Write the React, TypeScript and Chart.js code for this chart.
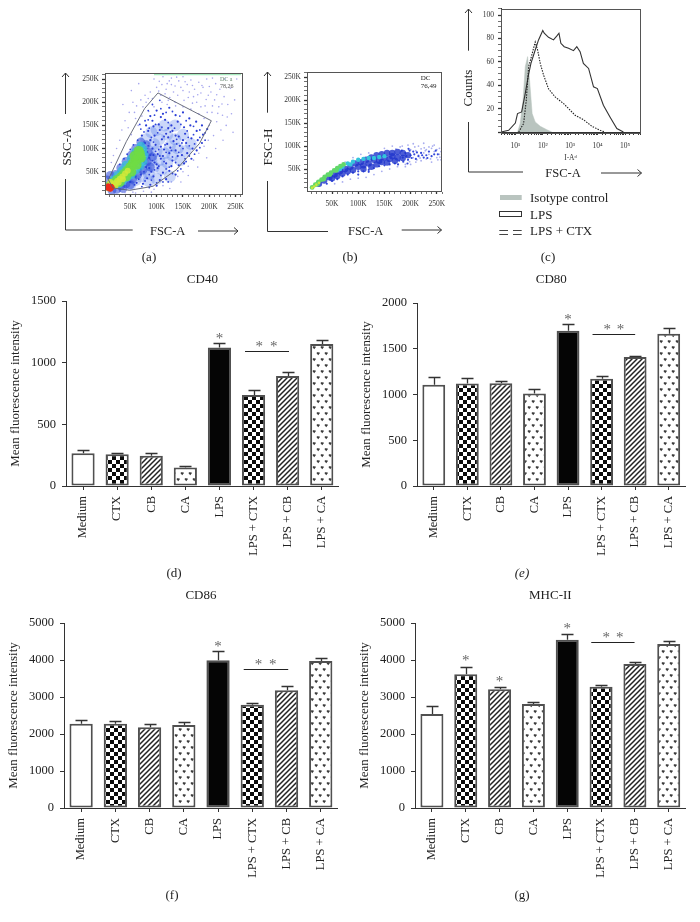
import React, { useEffect, useRef } from "react";
import { Chart, registerables } from "chart.js";

Chart.register(...registerables);

const SERIF = "'Liberation Serif', serif";

// ---------- bar panels ----------
const categories = ["Medium", "CTX", "CB", "CA", "LPS", "LPS + CTX", "LPS + CB", "LPS + CA"];

const cd40Values = [265, 257, 246, 149, 1122, 738, 892, 1151];
const cd40Tops = [292, 270, 268, 160, 1157, 776, 924, 1186];
const cd40Stars = [[4, 1216], [5.17, 1150], [5.59, 1150]];
const cd40Bracket = [4.75, 6.04, 1095];

const cd80Values = [1106, 1120, 1124, 1011, 1697, 1172, 1409, 1664];
const cd80Tops = [1190, 1179, 1153, 1058, 1770, 1204, 1423, 1726];
const cd80Stars = [[4, 1850], [5.165, 1737], [5.56, 1737]];
const cd80Bracket = [4.73, 6.0, 1660];

const cd86Values = [2279, 2279, 2180, 2243, 3991, 2793, 3180, 3973];
const cd86Tops = [2369, 2351, 2261, 2324, 4243, 2829, 3306, 4063];
const cd86Stars = [[4, 4441], [5.18, 3946], [5.6, 3946]];
const cd86Bracket = [4.75, 6.05, 3748];

const mhcValues = [2541, 3613, 3207, 2811, 4550, 3279, 3892, 4432];
const mhcTops = [2748, 3811, 3270, 2856, 4703, 3333, 3946, 4514];
const mhcStars = [[1, 4054], [2, 3477], [4, 4910], [5.15, 4685], [5.55, 4685]];
const mhcBracket = [4.71, 5.99, 4477];

const barPatterns = ["white", "checker", "diag", "hearts", "black", "checker", "diag", "hearts"];

// ---------- panel (a) FSC-A / SSC-A, values in thousands ----------
const flowTicks = [10, 20, 30, 40, 50, 60, 70, 80, 90, 100, 110, 120, 130, 140, 150, 160, 170, 180, 190, 200, 210, 220, 230, 240, 250, 260];
const aGate = [[8.2, 32.9], [42.4, 115], [77.2, 186.4], [102.5, 220], [203.8, 160], [181.6, 111.4], [137, 54], [93, 18.6], [48.7, 10], [17, 15], [8.2, 32.9]];
const aTopEdge = [[95, 260.5], [150, 260.5], [200, 260.5], [260, 260.5]];
const aRed = [[7, 14], [10, 17], [13, 12], [16, 16], [11, 12], [8, 20], [14, 19]];
const aYellow = [[15, 22], [20, 25], [25, 30], [30, 35], [35, 40], [40, 46], [45, 52], [22, 20], [12, 28], [28, 27], [36, 34]];
const aGreen = [[10, 18], [18, 25], [25, 32], [32, 38], [38, 45], [44, 52], [50, 60], [55, 68], [60, 75], [65, 82], [68, 90], [70, 80], [62, 65], [52, 50], [42, 40], [30, 28], [58, 84], [66, 95]];
const aCyan = [[28, 24], [35, 30], [44, 38], [52, 44], [60, 54], [68, 62], [74, 72], [76, 86], [74, 98], [70, 105], [60, 92], [52, 78], [42, 64], [34, 52], [26, 42], [18, 32]];
const aDense = [[6, 32], [15, 10], [24, 12], [22, 44], [32, 20], [32, 58], [42, 24], [42, 72], [54, 34], [52, 86], [64, 44], [60, 100], [74, 54], [70, 114], [82, 72], [84, 92], [80, 108], [12, 42], [36, 14], [50, 22], [88, 60], [92, 82]];
const aSoft = [[85, 45], [95, 60], [105, 75], [115, 90], [125, 105], [100, 95], [90, 75], [80, 55], [110, 55], [120, 70], [130, 85], [140, 100], [135, 120], [120, 130], [105, 120], [95, 110], [85, 95], [75, 70], [70, 40], [60, 32], [50, 22], [145, 75], [155, 95], [150, 130], [135, 150], [115, 150], [100, 140], [165, 110], [125, 40], [100, 35], [85, 30], [75, 85], [80, 120], [90, 135]];
const aMid = [[88, 170], [100, 182], [112, 175], [124, 188], [136, 172], [150, 178], [162, 165], [175, 158], [186, 150], [80, 150], [92, 160], [104, 152], [116, 162], [128, 150], [140, 158], [152, 146], [164, 150], [176, 138], [188, 130], [196, 142], [72, 128], [84, 138], [96, 128], [106, 140], [118, 132], [130, 138], [142, 126], [154, 132], [166, 122], [178, 118], [186, 112], [78, 112], [88, 118], [98, 108], [110, 120], [120, 110], [132, 116], [144, 106], [156, 112], [168, 100], [176, 96], [82, 92], [92, 100], [102, 88], [114, 98], [124, 90], [136, 96], [148, 86], [158, 90], [166, 78], [76, 72], [86, 80], [96, 70], [108, 78], [118, 68], [130, 74], [142, 64], [152, 68], [70, 55], [80, 60], [90, 50], [102, 58], [112, 48], [124, 52], [136, 44], [60, 40], [70, 44], [82, 36], [94, 40], [106, 32], [118, 34], [50, 28], [62, 26], [74, 24], [88, 22], [100, 20], [94, 148], [108, 168], [122, 144], [136, 128], [150, 118], [122, 124], [108, 104], [94, 86], [126, 102], [140, 84], [112, 84], [100, 66], [86, 58], [128, 62], [72, 90], [68, 104], [60, 78]];
const aFine = [[84, 162], [96, 172], [108, 186], [118, 178], [130, 180], [144, 170], [156, 160], [170, 148], [182, 140], [192, 134], [86, 144], [98, 152], [110, 146], [122, 156], [134, 144], [146, 152], [158, 138], [170, 130], [182, 124], [192, 118], [76, 136], [90, 124], [102, 134], [114, 126], [126, 136], [138, 120], [148, 112], [160, 124], [172, 110], [182, 102], [84, 106], [94, 114], [104, 98], [116, 108], [128, 96], [138, 110], [150, 100], [162, 106], [172, 88], [88, 86], [98, 94], [106, 84], [118, 92], [130, 82], [142, 92], [154, 78], [162, 84], [80, 68], [92, 74], [104, 62], [114, 72], [124, 60], [136, 70], [146, 56], [156, 72], [76, 50], [86, 44], [96, 54], [108, 42], [118, 56], [130, 46], [140, 52], [66, 34], [78, 30], [90, 32], [100, 26], [112, 28], [122, 28], [58, 22], [72, 18], [86, 16], [68, 66], [64, 118], [70, 142], [56, 108], [50, 98], [44, 88], [38, 78], [30, 66], [78, 160], [68, 152], [84, 182], [92, 195], [106, 204]];
const aSparse = [[95, 250], [105, 245], [112, 255], [120, 240], [128, 252], [135, 235], [142, 246], [150, 255], [158, 238], [165, 248], [172, 228], [180, 243], [188, 232], [195, 250], [203, 222], [212, 240], [220, 228], [228, 212], [235, 195], [218, 190], [225, 172], [232, 150], [210, 205], [198, 215], [184, 220], [170, 212], [150, 225], [132, 222], [118, 228], [100, 232], [88, 222], [78, 215], [70, 205], [62, 192], [55, 200], [48, 178], [40, 160], [34, 140], [30, 118], [24, 100], [18, 85], [14, 70], [36, 195], [52, 225], [66, 240], [80, 200], [92, 208], [108, 215], [125, 210], [140, 215], [160, 210], [176, 200], [192, 192], [205, 178], [214, 158], [222, 140], [208, 128], [198, 118], [190, 105], [180, 90], [170, 75], [160, 62], [150, 50], [140, 40], [128, 28], [112, 20], [95, 12], [75, 8], [55, 6], [40, 5], [30, 8], [240, 230], [248, 205], [242, 175], [252, 250], [230, 250], [206, 252], [245, 135], [226, 118], [212, 100], [195, 80], [178, 60], [160, 42], [146, 28], [125, 14], [90, 6], [60, 4], [120, 195], [135, 200], [150, 190], [165, 185], [180, 175], [190, 165], [200, 150], [110, 200], [95, 190], [85, 180], [72, 170], [65, 150], [60, 165], [52, 130], [46, 145], [116, 218], [128, 238], [146, 232], [162, 222], [178, 216], [194, 206], [206, 192], [216, 176], [110, 238], [124, 246], [138, 254], [154, 244], [168, 236], [186, 236], [200, 234], [214, 216], [224, 196], [234, 168], [196, 178], [184, 190], [168, 198], [152, 204], [136, 192], [122, 204], [104, 224], [84, 208], [74, 190], [58, 178]];

// ---------- panel (b) FSC-A / FSC-H, values in thousands ----------
const bYellow = [[12, 9], [16, 12], [20, 16], [25, 20]];
const bGreen = [[12, 10], [18, 16], [24, 22], [30, 27], [36, 33], [42, 38], [48, 42], [54, 47], [60, 52], [66, 56], [72, 60], [22, 17], [34, 28], [46, 38], [58, 47]];
const bCyan = [[60, 48], [70, 55], [80, 62], [90, 66], [100, 70], [110, 72], [120, 74], [130, 74], [140, 76], [150, 78], [65, 50], [85, 60]];
const bDense = [[25, 18], [35, 25], [45, 32], [55, 38], [65, 45], [75, 50], [85, 55], [95, 62], [105, 65], [115, 70], [125, 75], [135, 80], [145, 82], [155, 85], [165, 85], [175, 87], [185, 85], [60, 35], [80, 45], [100, 55], [120, 62], [140, 68], [160, 72], [175, 75], [150, 75], [130, 70], [110, 58], [90, 48], [70, 40], [50, 30], [145, 65], [165, 78], [110, 50], [125, 55], [135, 60], [155, 64], [170, 68], [185, 74], [195, 80]];
const bMid = [[185, 75], [190, 85], [195, 70], [200, 80], [205, 88], [210, 72], [215, 78], [220, 85], [225, 75], [230, 80], [178, 68], [183, 90], [192, 78], [198, 90], [207, 82], [235, 88], [240, 78], [245, 82], [40, 18], [50, 24], [60, 28], [70, 34], [80, 38], [90, 42], [100, 45], [110, 45], [120, 48], [130, 52], [140, 56], [150, 58], [160, 60], [170, 62], [100, 38], [120, 44], [186, 66], [194, 62], [202, 74], [212, 86], [222, 80], [232, 74], [196, 94], [176, 60], [252, 82], [248, 90]];
const bSparse = [[150, 95], [165, 100], [180, 98], [195, 102], [205, 105], [215, 100], [225, 106], [235, 98], [245, 102], [255, 95], [200, 60], [210, 65], [220, 68], [230, 72], [240, 65], [250, 75], [258, 70], [205, 75], [215, 80], [225, 85], [235, 82], [245, 88], [255, 82], [200, 92], [210, 90], [220, 94], [230, 92], [240, 95], [250, 92], [258, 88], [190, 60], [175, 55], [160, 50], [145, 45], [130, 38], [115, 32], [100, 30], [85, 28], [70, 22], [55, 18], [120, 85], [105, 82], [90, 75], [75, 65], [60, 55], [190, 55], [212, 70], [228, 90], [238, 72], [252, 70], [208, 98], [218, 74], [184, 100], [172, 94], [198, 66], [242, 100], [226, 96], [256, 76]];

// ---------- panel (c) histogram ----------
const isotypeCurve = [[12, 0], [15, 7.2], [19, 27], [23, 55.9], [28, 64.5], [33, 44.4], [41, 15.8], [53, 8.6], [81, 4.9], [141, 2], [214, 0]];
const lpsCurve = [[3, 0], [5.7, 1.4], [10, 7.7], [12, 15.8], [17, 17.2], [23, 33], [30, 48.7], [37, 58.7], [53, 70.2], [70, 78.8], [100, 86.8], [113, 84.5], [162, 81], [246, 78.8], [327, 82.2], [389, 84.5], [457, 75.9], [603, 73], [871, 71.6], [1318, 69.6], [1738, 73], [2291, 68.8], [3020, 58.7], [4677, 54.4], [7079, 38.7], [9772, 37.2], [16218, 22.9], [28184, 12.9], [50119, 2.9], [87096, 0]];
const lpsCtxCurve = [[13.2, 0], [20, 7.2], [25, 27], [30.5, 55.9], [37, 63], [53, 77], [65, 70], [81, 58.7], [107, 48.7], [162, 37], [282, 30], [575, 24.3], [1000, 18.6], [1514, 14.3], [3020, 10.6], [6166, 4.9], [12300, 1.4], [18600, 0]];

const legendLabels = ["Isotype control", "LPS", "LPS + CTX"];

const pts = (list: number[][]) => list.map(([x, y]) => ({ x, y }));

// ---------- fill patterns ----------
function tile(w: number, h: number, draw: (c: CanvasRenderingContext2D) => void) {
  const cv = document.createElement("canvas");
  cv.width = w;
  cv.height = h;
  const c = cv.getContext("2d")!;
  c.fillStyle = "#fff";
  c.fillRect(0, 0, w, h);
  draw(c);
  return c.createPattern(cv, "repeat")!;
}
function makeFill(kind: string): any {
  if (kind === "white") return "#ffffff";
  if (kind === "black") return "#050505";
  if (kind === "checker")
    return tile(8, 8, (c) => {
      c.fillStyle = "#0a0a0a";
      c.fillRect(0, 0, 4, 4);
      c.fillRect(4, 4, 4, 4);
    });
  if (kind === "diag")
    return tile(5, 5, (c) => {
      c.strokeStyle = "#222";
      c.lineWidth = 1.5;
      c.beginPath();
      c.moveTo(-2, 7);
      c.lineTo(7, -2);
      c.moveTo(-2, 2);
      c.lineTo(2, -2);
      c.moveTo(3, 7);
      c.lineTo(7, 3);
      c.stroke();
    });
  return tile(8, 12, (c) => {
    c.strokeStyle = "#3a3a3a";
    c.lineWidth = 1.5;
    c.beginPath();
    c.moveTo(1, 2.5);
    c.lineTo(2.2, 4);
    c.lineTo(3.4, 2.5);
    c.moveTo(5, 8.5);
    c.lineTo(6.2, 10);
    c.lineTo(7.4, 8.5);
    c.stroke();
  });
}

// ---------- bar chart ----------
function barConfig(p: any) {
  const marks = {
    id: "marks",
    afterDatasetsDraw(chart: any) {
      const { ctx, scales } = chart;
      const x = scales.x;
      const y = scales.y;
      ctx.save();
      ctx.strokeStyle = "#333";
      ctx.lineWidth = 1.3;
      p.tops.forEach((top: number, i: number) => {
        const px = Math.round(x.getPixelForValue(i)) + 0.5;
        const y0 = y.getPixelForValue(p.values[i]);
        const y1 = Math.round(y.getPixelForValue(top)) + 0.5;
        ctx.beginPath();
        ctx.moveTo(px, y0);
        ctx.lineTo(px, y1);
        ctx.moveTo(px - 6, y1);
        ctx.lineTo(px + 6, y1);
        ctx.stroke();
      });
      ctx.strokeStyle = "#222";
      ctx.lineWidth = 1;
      const by = Math.round(y.getPixelForValue(p.bracket[2])) + 0.5;
      ctx.beginPath();
      ctx.moveTo(x.getPixelForValue(p.bracket[0]), by);
      ctx.lineTo(x.getPixelForValue(p.bracket[1]), by);
      ctx.stroke();
      ctx.fillStyle = "#666";
      ctx.font = `15px ${SERIF}`;
      ctx.textAlign = "center";
      ctx.textBaseline = "alphabetic";
      p.stars.forEach(([i, v]: number[]) => {
        ctx.fillText("*", x.getPixelForValue(i), y.getPixelForValue(v) + 7);
      });
      ctx.restore();
    },
  };
  return {
    type: "bar",
    data: {
      labels: categories,
      datasets: [
        {
          label: p.title,
          data: p.values,
          backgroundColor: barPatterns.map(makeFill),
          borderColor: "#505050",
          borderWidth: 2,
          borderSkipped: false,
          categoryPercentage: 1,
          barPercentage: 0.68,
        },
      ],
    },
    options: {
      responsive: false,
      animation: false,
      layout: { padding: 0 },
      plugins: {
        legend: { display: false },
        tooltip: { enabled: false },
        title: {
          display: true,
          text: p.title,
          fullSize: false,
          color: "#222",
          font: { family: SERIF, size: 13, weight: "normal" },
          padding: { top: 0, bottom: p.titleGap },
        },
      },
      scales: {
        x: {
          offset: true,
          afterFit: (s: any) => { s.height = 75; },
          border: { color: "#333", width: 1 },
          grid: { display: true, drawOnChartArea: false, offset: false, tickLength: 4, tickColor: "#333" },
          ticks: { autoSkip: false, minRotation: 90, maxRotation: 90, padding: 6, color: "#222", font: { family: SERIF, size: 12.5 } },
        },
        y: {
          min: 0,
          max: p.max,
          afterFit: (s: any) => { s.width = 58; },
          border: { color: "#333", width: 1 },
          grid: { display: true, drawOnChartArea: false, tickLength: 4, tickColor: "#333" },
          ticks: { stepSize: p.step, padding: 6, color: "#222", font: { family: SERIF, size: 12.5 }, callback: (v: number) => String(v) },
          title: { display: true, text: "Mean fluorescence intensity", padding: 0, color: "#222", font: { family: SERIF, size: 13 } },
        },
      },
    },
    plugins: [marks],
  };
}

// ---------- flow cytometry panels ----------
const framePlugin = {
  id: "frame",
  afterDraw(chart: any) {
    const { ctx, chartArea: a } = chart;
    ctx.save();
    ctx.strokeStyle = "#555";
    ctx.lineWidth = 1;
    ctx.strokeRect(Math.round(a.left) + 0.5, Math.round(a.top) + 0.5, Math.round(a.right - a.left), Math.round(a.bottom - a.top));
    ctx.restore();
  },
};

function dots(label: string, list: number[][], color: string, radius: number) {
  return { label, data: pts(list), backgroundColor: color, borderWidth: 0, pointRadius: radius, pointHoverRadius: radius };
}

function flowAxis(min: number, max: number, size: number, isX: boolean) {
  return {
    min,
    max,
    afterFit: (s: any) => { if (isX) s.height = size; else s.width = size; },
    afterBuildTicks: (s: any) => { s.ticks = flowTicks.map((k) => ({ value: k * 1000 })); },
    border: { color: "#555", width: 1 },
    grid: {
      display: true,
      drawOnChartArea: false,
      tickLength: 3,
      tickColor: "#333",
      tickWidth: (c: any) => (c.tick && c.tick.value % 50000 === 0 ? 1.3 : 0.7),
    },
    ticks: {
      autoSkip: false,
      maxRotation: 0,
      padding: isX ? 6 : 3,
      color: "#333",
      font: { family: SERIF, size: 7.5 },
      callback: (v: number) => (v > 0 && v % 50000 === 0 ? `${v / 1000}K` : ""),
    },
  };
}
const scaleK = (list: number[][]) => list.map(([x, y]) => [x * 1000, y * 1000]);

function scatterConfig(sets: any[], x: number[], y: number[], pad: any) {
  return {
    type: "scatter",
    data: { datasets: sets },
    options: {
      responsive: false,
      animation: false,
      layout: { padding: pad },
      plugins: { legend: { display: false }, tooltip: { enabled: false } },
      scales: { x: flowAxis(x[0], x[1], 24, true), y: flowAxis(y[0], y[1], 35, false) },
    },
    plugins: [framePlugin],
  };
}

const panelAConfig = () =>
  scatterConfig(
    [
      { label: "DC a gate", data: pts(scaleK(aGate)), showLine: true, borderColor: "#5a5f70", borderWidth: 0.9, pointRadius: 0, fill: false },
      { label: "edge", data: pts(scaleK(aTopEdge)), showLine: true, borderColor: "#a8ecc0", borderWidth: 2, pointRadius: 0, fill: false },
      dots("red", scaleK(aRed), "#ee2b1b", 2.4),
      dots("yellow", scaleK(aYellow), "rgba(210,232,58,0.85)", 3),
      dots("green", scaleK(aGreen), "rgba(111,220,69,0.9)", 5),
      dots("cyan", scaleK(aCyan), "rgba(53,190,215,0.75)", 4.5),
      dots("dense", scaleK(aDense), "rgba(40,70,215,0.55)", 4.5),
      dots("mid", scaleK(aMid), "#2b3ed6", 1.1),
      dots("fine", scaleK(aFine), "#2f44da", 0.9),
      dots("soft", scaleK(aSoft), "rgba(70,110,235,0.28)", 6),
      dots("sparse", scaleK(aSparse), "#a6a6ee", 0.8),
    ],
    [2000, 262000],
    [2000, 263000],
    { top: 10, right: 12 }
  );

const panelBConfig = () =>
  scatterConfig(
    [
      dots("yellow", scaleK(bYellow), "#c8e83c", 1.3),
      dots("green", scaleK(bGreen), "#62d86a", 2.4),
      dots("cyan", scaleK(bCyan), "#35c4dc", 2.2),
      dots("dense", scaleK(bDense), "rgba(31,53,204,0.8)", 3.2),
      dots("mid", scaleK(bMid), "#3448da", 1.1),
      dots("sparse", scaleK(bSparse), "#a9adef", 0.9),
    ],
    [2200, 258000],
    [2200, 261000],
    { top: 10, right: 12 }
  );

const panelCConfig = () => ({
  type: "scatter",
  data: {
    datasets: [
      { label: legendLabels[2], data: pts(lpsCtxCurve), showLine: true, borderColor: "#222", borderWidth: 1.1, borderDash: [1.5, 1.2], pointRadius: 0, fill: false },
      { label: legendLabels[1], data: pts(lpsCurve), showLine: true, borderColor: "#333", borderWidth: 1.1, pointRadius: 0, fill: false },
      { label: legendLabels[0], data: pts(isotypeCurve), showLine: true, borderColor: "#b9c4bf", backgroundColor: "#b9c4bf", borderWidth: 0.5, pointRadius: 0, fill: "origin" },
    ],
  },
  options: {
    responsive: false,
    animation: false,
    layout: { padding: { top: 5, right: 10 } },
    plugins: { legend: { display: false }, tooltip: { enabled: false } },
    scales: {
      x: {
        type: "logarithmic",
        min: 3,
        max: 350000,
        afterFit: (s: any) => { s.height = 31; },
        border: { color: "#333", width: 1 },
        grid: { display: true, drawOnChartArea: false, tickLength: 3, tickColor: "#333" },
        ticks: {
          autoSkip: false,
          maxRotation: 0,
          padding: 7,
          color: "#333",
          font: { family: SERIF, size: 7.5 },
          callback: (v: number) => {
            const e = Math.log10(v);
            return Math.abs(e - Math.round(e)) < 1e-6 ? `10${"⁰¹²³⁴⁵"[Math.round(e)]}` : "";
          },
        },
        title: { display: true, text: "I-Aᵈ", padding: 0, color: "#333", font: { family: SERIF, size: 7.5 } },
      },
      y: {
        min: 0,
        max: 105.7,
        afterFit: (s: any) => { s.width = 31; },
        border: { color: "#333", width: 1 },
        grid: {
          display: true,
          drawOnChartArea: false,
          tickLength: 3,
          tickColor: "#333",
          tickWidth: (c: any) => (c.tick && c.tick.value % 20 === 0 ? 1.3 : 0.7),
        },
        ticks: {
          stepSize: 5,
          autoSkip: false,
          padding: 4,
          color: "#333",
          font: { family: SERIF, size: 7.5 },
          callback: (v: number) => (v > 0 && v % 20 === 0 ? String(v) : ""),
        },
      },
    },
  },
  plugins: [framePlugin],
});

function Panel({ left, top, width, height, make }: any) {
  const ref = useRef<HTMLCanvasElement>(null);
  useEffect(() => {
    const chart = new Chart(ref.current!, make());
    return () => chart.destroy();
  }, []);
  return <canvas ref={ref} width={width} height={height} style={{ position: "absolute", left, top, width, height, display: "block" }} />;
}

function barPanel(title: string, values: number[], tops: number[], stars: number[][], bracket: number[], max: number, step: number, axisX: number, topY: number, zeroY: number, rightX: number, titleTop: number) {
  const left = axisX - 58;
  return (
    <Panel
      left={left}
      top={titleTop}
      width={rightX - left}
      height={zeroY + 75 - titleTop}
      make={() => barConfig({ title, values, tops, stars, bracket, max, step, titleGap: topY - titleTop - 15.6 })}
    />
  );
}

const txt = { fontFamily: SERIF, fill: "#222" };

function Arrow({ x1, y1, x2, y2 }: any) {
  const up = x1 === x2;
  return (
    <g stroke="#333" strokeWidth={1} fill="none">
      <line x1={x1} y1={y1} x2={x2} y2={y2} />
      {up ? <path d={`M${x2 - 3.5} ${y2 + 4} L${x2} ${y2} L${x2 + 3.5} ${y2 + 4}`} /> : <path d={`M${x2 - 4} ${y2 - 3.5} L${x2} ${y2} L${x2 - 4} ${y2 + 3.5}`} />}
    </g>
  );
}

function Overlay() {
  const label = (s: string, x: number, y: number, size = 12.5, anchor = "middle", extra: any = {}) => (
    <text x={x} y={y} fontSize={size} textAnchor={anchor} {...txt} {...extra}>{s}</text>
  );
  const rotated = (s: string, x: number, y: number) => (
    <text transform={`translate(${x} ${y}) rotate(-90)`} fontSize={13} textAnchor="middle" dominantBaseline="central" {...txt}>{s}</text>
  );
  return (
    <svg width={700} height={922} style={{ position: "absolute", left: 0, top: 0, pointerEvents: "none" }}>
      {/* (a) */}
      <polyline points="65.5,179 65.5,230 132.7,230" fill="none" stroke="#333" />
      <Arrow x1={65.5} y1={114} x2={65.5} y2={73} />
      <Arrow x1={198} y1={231} x2={238} y2={231} />
      {rotated("SSC-A", 66, 147)}
      {label("FSC-A", 167.7, 235)}
      {label("DC a", 220, 81, 6, "start", { fill: "#6a8a72" })}
      {label("78,26", 220, 88, 6, "start", { fill: "#555" })}
      {label("(a)", 149, 261, 13)}
      {/* (b) */}
      <polyline points="267.5,181 267.5,231.5 328,231.5" fill="none" stroke="#333" />
      <Arrow x1={267.5} y1={112.7} x2={267.5} y2={72} />
      <Arrow x1={401.7} y1={230} x2={441.5} y2={230} />
      {rotated("FSC-H", 267, 147)}
      {label("FSC-A", 365.7, 235)}
      {label("DC", 420.7, 80, 7, "start")}
      {label("76,49", 420.7, 88, 7, "start")}
      {label("(b)", 350, 261, 13)}
      {/* (c) */}
      <polyline points="468.5,122 468.5,172 523,172" fill="none" stroke="#333" />
      <Arrow x1={468.5} y1={50.7} x2={468.5} y2={9} />
      <Arrow x1={601} y1={173} x2={641.5} y2={173} />
      {rotated("Counts", 467, 88)}
      {label("FSC-A", 563, 177)}
      <rect x={500} y={195} width={21.7} height={5} fill="#b9c4bf" />
      <rect x={499.5} y={211.5} width={22} height={5} fill="#fff" stroke="#333" />
      <line x1={499.3} y1={230.5} x2={508} y2={230.5} stroke="#444" />
      <line x1={499.3} y1={234.5} x2={508} y2={234.5} stroke="#444" />
      <line x1={513} y1={230.5} x2={521.7} y2={230.5} stroke="#444" />
      <line x1={513} y1={234.5} x2={521.7} y2={234.5} stroke="#444" />
      {label(legendLabels[0], 530, 202, 13, "start")}
      {label(legendLabels[1], 530, 219, 13, "start")}
      {label(legendLabels[2], 530, 235, 13, "start")}
      {label("(c)", 548, 261, 13)}
      {/* lower captions */}
      {label("(d)", 174, 577, 13)}
      {label("(e)", 522, 577, 13, "middle", { fontStyle: "italic" })}
      {label("(f)", 172, 899, 13)}
      {label("(g)", 522, 899, 13)}
    </svg>
  );
}

export default function App() {
  return (
    <div style={{ position: "absolute", left: 0, top: 0, width: 700, height: 922, overflow: "hidden", background: "#fff" }}>
      <Panel left={70} top={63} width={184} height={155} make={panelAConfig} />
      <Panel left={272} top={62} width={181} height={153} make={panelBConfig} />
      <Panel left={470} top={0} width={180} height={163} make={panelCConfig} />
      {barPanel("CD40", cd40Values, cd40Tops, cd40Stars, cd40Bracket, 1500, 500, 66, 301, 486, 343, 272)}
      {barPanel("CD80", cd80Values, cd80Tops, cd80Stars, cd80Bracket, 2000, 500, 417, 303, 486, 690, 272)}
      {barPanel("CD86", cd86Values, cd86Tops, cd86Stars, cd86Bracket, 5000, 1000, 64, 623, 808, 342, 588)}
      {barPanel("MHC-II", mhcValues, mhcTops, mhcStars, mhcBracket, 5000, 1000, 415, 623, 808, 690, 588)}
      <Overlay />
    </div>
  );
}
